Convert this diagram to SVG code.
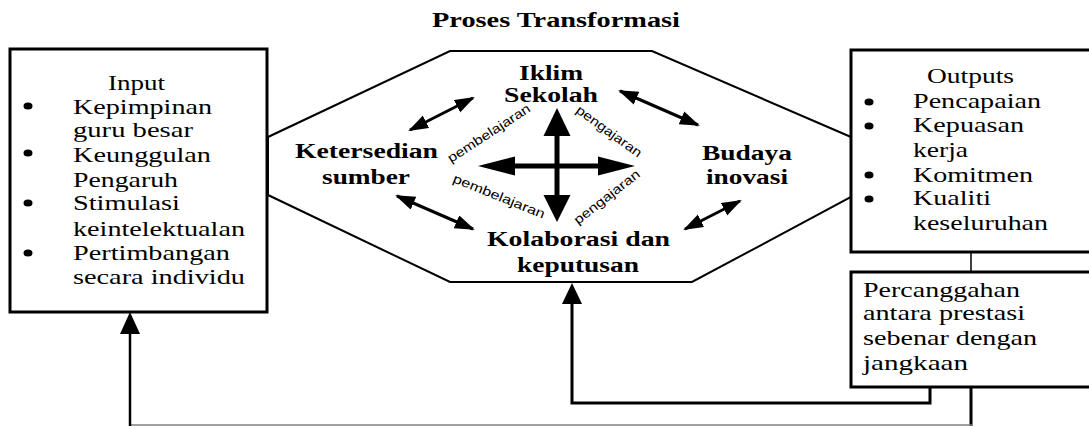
<svg xmlns="http://www.w3.org/2000/svg" width="1089" height="426" viewBox="0 0 1089 426">
<style>
.t{font-family:"Liberation Serif","Times New Roman",serif;font-size:21px;fill:#000}
.b{font-weight:bold;font-size:20px}
.s{font-family:"Liberation Sans",Arial,sans-serif;font-size:13px;fill:#000}
.box{fill:#fff;stroke:#000;stroke-width:3}
.oct{fill:#fff;stroke:#000;stroke-width:2}
.dbl{stroke:#000;stroke-width:3;fill:none;marker-start:url(#ah);marker-end:url(#ah)}
.ln{stroke:#000;fill:none}
</style>
<defs>
<marker id="ah" markerUnits="userSpaceOnUse" markerWidth="22" markerHeight="16" refX="18" refY="7" orient="auto-start-reverse" viewBox="0 0 22 16">
<path d="M0,0 L20,7 L0,14 z" fill="#000"/>
</marker>
</defs>
<rect width="1089" height="426" fill="#fff"/>

<text class="t b" x="432" y="27" textLength="248" lengthAdjust="spacingAndGlyphs">Proses Transformasi</text>

<g id="octagon">
<polygon class="oct" points="450,51 652,51 851,137 851,197 692,282 450,282 268,195 268,137"/>
</g>

<g id="input">
<rect class="box" x="10" y="49" width="257" height="263"/>
<text class="t" x="108" y="90" textLength="57" lengthAdjust="spacingAndGlyphs">Input</text>
<ellipse cx="28" cy="106" rx="4.5" ry="3.5"/>
<ellipse cx="28" cy="153" rx="4.5" ry="3.5"/>
<ellipse cx="28" cy="203" rx="4.5" ry="3.5"/>
<ellipse cx="28" cy="253" rx="4.5" ry="3.5"/>
<text class="t" x="73" y="114" textLength="139" lengthAdjust="spacingAndGlyphs">Kepimpinan</text>
<text class="t" x="73" y="137" textLength="120" lengthAdjust="spacingAndGlyphs">guru besar</text>
<text class="t" x="73" y="162" textLength="138" lengthAdjust="spacingAndGlyphs">Keunggulan</text>
<text class="t" x="73" y="187" textLength="105" lengthAdjust="spacingAndGlyphs">Pengaruh</text>
<text class="t" x="73" y="210" textLength="107" lengthAdjust="spacingAndGlyphs">Stimulasi</text>
<text class="t" x="73" y="236" textLength="172" lengthAdjust="spacingAndGlyphs">keintelektualan</text>
<text class="t" x="73" y="260" textLength="157" lengthAdjust="spacingAndGlyphs">Pertimbangan</text>
<text class="t" x="73" y="284" textLength="172" lengthAdjust="spacingAndGlyphs">secara individu</text>
</g>

<g id="outputs">
<rect class="box" x="851" y="50" width="245" height="202"/>
<text class="t" x="927" y="83" textLength="87" lengthAdjust="spacingAndGlyphs">Outputs</text>
<ellipse cx="869" cy="102" rx="4.5" ry="3.5"/>
<ellipse cx="869" cy="126" rx="4.5" ry="3.5"/>
<ellipse cx="869" cy="175" rx="4.5" ry="3.5"/>
<ellipse cx="869" cy="199" rx="4.5" ry="3.5"/>
<text class="t" x="913" y="108" textLength="128" lengthAdjust="spacingAndGlyphs">Pencapaian</text>
<text class="t" x="913" y="132" textLength="111" lengthAdjust="spacingAndGlyphs">Kepuasan</text>
<text class="t" x="913" y="157" textLength="55" lengthAdjust="spacingAndGlyphs">kerja</text>
<text class="t" x="913" y="182" textLength="120" lengthAdjust="spacingAndGlyphs">Komitmen</text>
<text class="t" x="913" y="205" textLength="78" lengthAdjust="spacingAndGlyphs">Kualiti</text>
<text class="t" x="913" y="230" textLength="135" lengthAdjust="spacingAndGlyphs">keseluruhan</text>
</g>

<g id="percanggahan">
<rect class="box" x="851" y="272" width="245" height="115"/>
<text class="t" x="863" y="297" textLength="157" lengthAdjust="spacingAndGlyphs">Percanggahan</text>
<text class="t" x="863" y="320" textLength="162" lengthAdjust="spacingAndGlyphs">antara prestasi</text>
<text class="t" x="863" y="345" textLength="174" lengthAdjust="spacingAndGlyphs">sebenar dengan</text>
<text class="t" x="863" y="370" textLength="105" lengthAdjust="spacingAndGlyphs">jangkaan</text>
</g>

<g id="iklim">
<text class="t b" x="519" y="80" textLength="64" lengthAdjust="spacingAndGlyphs">Iklim</text>
<text class="t b" x="504" y="102" textLength="94" lengthAdjust="spacingAndGlyphs">Sekolah</text>
</g>
<g id="ketersedian">
<text class="t b" x="295" y="158" textLength="143" lengthAdjust="spacingAndGlyphs">Ketersedian</text>
<text class="t b" x="322" y="184" textLength="88" lengthAdjust="spacingAndGlyphs">sumber</text>
</g>
<g id="budaya">
<text class="t b" x="702" y="160" textLength="90" lengthAdjust="spacingAndGlyphs">Budaya</text>
<text class="t b" x="706" y="184" textLength="82" lengthAdjust="spacingAndGlyphs">inovasi</text>
</g>
<g id="kolaborasi">
<text class="t b" x="487" y="246" textLength="183" lengthAdjust="spacingAndGlyphs">Kolaborasi dan</text>
<text class="t b" x="517" y="272" textLength="122" lengthAdjust="spacingAndGlyphs">keputusan</text>
</g>

<g id="connectors">
<line class="dbl" x1="410" y1="130" x2="473" y2="98"/>
<line class="dbl" x1="397" y1="196" x2="473" y2="229"/>
<line class="dbl" x1="620" y1="91" x2="698" y2="125"/>
<line class="dbl" x1="685" y1="229" x2="740" y2="201"/>

<line class="ln" x1="514" y1="166" x2="599" y2="166" stroke-width="5"/>
<polygon points="478,166 515,156.5 515,175.5"/>
<polygon points="635,166 598,156.5 598,175.5"/>
<line class="ln" x1="557" y1="135" x2="557" y2="196" stroke-width="5"/>
<polygon points="557,108 543.5,136 570.5,136"/>
<polygon points="557,222 543.5,195 570.5,195"/>

<text class="s" transform="translate(451,163) rotate(-33)" textLength="96" lengthAdjust="spacingAndGlyphs">pembelajaran</text>
<text class="s" transform="translate(452,182) rotate(22)" textLength="98" lengthAdjust="spacingAndGlyphs">pembelajaran</text>
<text class="s" transform="translate(575,112) rotate(36)" textLength="78" lengthAdjust="spacingAndGlyphs">pengajaran</text>
<text class="s" transform="translate(578,225) rotate(-38)" textLength="80" lengthAdjust="spacingAndGlyphs">pengajaran</text>

<line class="ln" x1="971" y1="252" x2="971" y2="272" stroke-width="1.5"/>
<path class="ln" d="M930,387 V403 H572 V303" stroke-width="3"/>
<polygon points="572,283 562,304 582,304"/>
<line class="ln" x1="971" y1="387" x2="971" y2="426" stroke-width="3"/>
<line x1="130" y1="425" x2="972" y2="425" stroke="#808080" stroke-width="1.5"/>
<line class="ln" x1="130" y1="426" x2="130" y2="332" stroke-width="2.5"/>
<polygon points="130,312 120,334 140,334"/>
</g>
</svg>
